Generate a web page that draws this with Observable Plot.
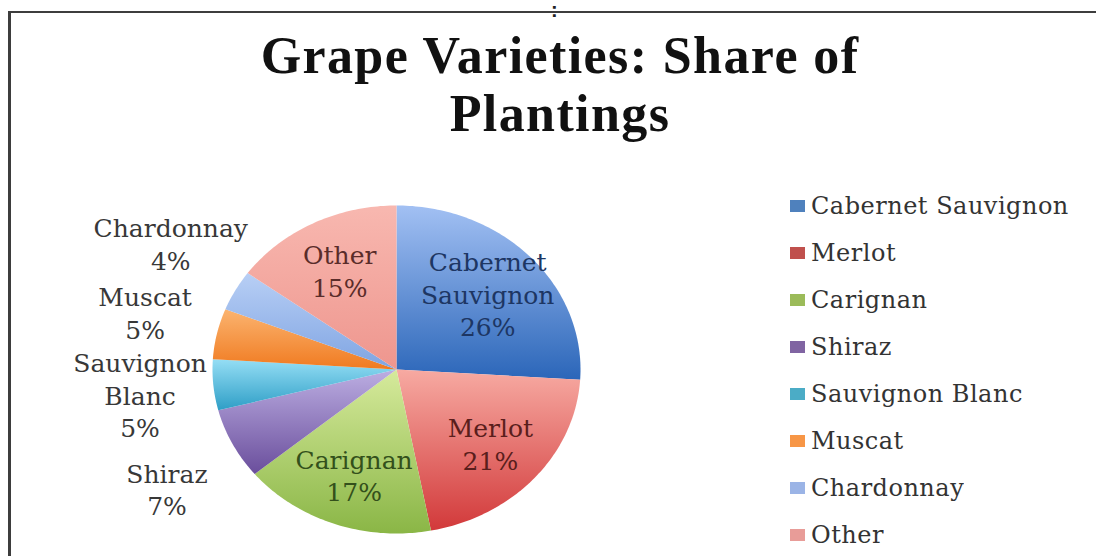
<!DOCTYPE html>
<html><head><meta charset="utf-8">
<script src="https://cdn.jsdelivr.net/npm/d3@7"></script>
<script src="https://cdn.jsdelivr.net/npm/@observablehq/plot@0.6"></script>
<style>
html,body{margin:0;padding:0;background:#fff;}
#wrap{position:relative;width:1096px;height:556px;overflow:hidden;background:#fff;}
#frame{position:absolute;left:8px;top:11px;width:1100px;height:560px;border-top:2px solid #3d3d3d;border-left:3px solid #3d3d3d;}
#dots{position:absolute;left:551px;top:-1px;font:bold 20px "Liberation Sans";color:#222;}
#title{position:absolute;left:0;width:1120px;top:27px;text-align:center;font-family:"Liberation Serif";font-weight:bold;font-size:52px;letter-spacing:1.4px;line-height:58px;color:#111;}
#pie{position:absolute;left:0;top:150px;}
#legend{position:absolute;left:790px;top:182px;width:306px;}
#legend .lg-swatches-columns .lg-swatch{height:47px;padding-bottom:0;}
#legend .lg-swatch > svg{margin-right:6px;}
</style></head>
<body>
<div id="wrap">
  <div id="frame"></div>
  <div id="dots">:</div>
  <div id="title">Grape Varieties: Share of<br>Plantings</div>
  <div id="pie"></div>
  <div id="legend"></div>
</div>
<script>
// ---- data ----
const varieties = ["Cabernet Sauvignon","Merlot","Carignan","Shiraz","Sauvignon Blanc","Muscat","Chardonnay","Other"];
const shares = [26,21,17,7,5,5,4,15];

// ---- palette ----
const topColors    = ["#a2c0f3","#f7aaa2","#d6ea9c","#bcaee2","#95def5","#fbb470","#b8cff5","#f8b8b0"];
const bottomColors = ["#2b66b9","#d2393a","#8ab646","#6a4e9c","#2e9ec6","#f07a20","#7fa4e2","#ee968e"];
const legendColors = ["#4f81bd","#c0504d","#9bbb59","#8064a2","#4bacc6","#f79646","#9bb4e6","#e89c98"];
const labelInk     = ["#1d3663","#5a1e1c","#33501b","#383838","#383838","#383838","#383838","#5a2c2a"];

const arcs = d3.pie().sort(null).value(d => d)(shares);

const slicePts = [];
arcs.forEach((p, i) => {
  const n = Math.max(2, Math.ceil((p.endAngle - p.startAngle) / (Math.PI / 180)));
  slicePts.push({k: i, x: 0, y: 0});
  for (let j = 0; j <= n; j++) {
    const a = p.startAngle + (p.endAngle - p.startAngle) * j / n;
    slicePts.push({k: i, x: Math.sin(a), y: Math.cos(a)});
  }
  slicePts.push({k: i, x: 0, y: 0});
});

// labels: large slices inside, small slices outside the pie
const labels = arcs.map((p, i) => {
  const mid = (p.startAngle + p.endAngle) / 2;
  const outside = shares[i] < 10;
  const rx = outside ? 1.4 : 0.68;
  const ry = outside ? 1.6 : 0.68;
  return {
    x: rx * Math.sin(mid),
    y: ry * Math.cos(mid),
    text: varieties[i].replace(" ", "\n") + "\n" + shares[i] + "%",
    ink: labelInk[i]
  };
});

const svg = Plot.plot({
  width: 740, height: 406,
  marginLeft: 212, marginRight: 160, marginTop: 55, marginBottom: 23,
  x: {domain: [-1, 1], axis: null},
  y: {domain: [-1, 1], axis: null},
  color: {type: "identity"},
  style: {background: "transparent", overflow: "visible"},
  marks: [
    Plot.line(slicePts, {x: "x", y: "y", z: "k", fill: d => `url(#grad${d.k})`, stroke: "none", curve: "linear"}),
    Plot.text(labels, {x: "x", y: "y", text: "text", fill: "ink", fontSize: 25, fontFamily: "DejaVu Serif", lineHeight: 1.3})
  ]
});

const defs = d3.select(svg).insert("defs", ":first-child");
topColors.forEach((c, i) => {
  const g = defs.append("linearGradient").attr("id", "grad" + i)
    .attr("x1", 0).attr("y1", 0).attr("x2", 0).attr("y2", 1);
  g.append("stop").attr("offset", 0).attr("stop-color", c);
  g.append("stop").attr("offset", 1).attr("stop-color", bottomColors[i]);
});
document.getElementById("pie").appendChild(svg);

const legend = Plot.legend({
  color: {domain: varieties, range: legendColors},
  legend: "swatches",
  columns: 1,
  swatchWidth: 15,
  swatchHeight: 12,
  className: "lg",
  style: {fontFamily: "DejaVu Serif", fontSize: "24px", letterSpacing: "0.5px", color: "#333"}
});
document.getElementById("legend").appendChild(legend);
</script>
</body></html>
